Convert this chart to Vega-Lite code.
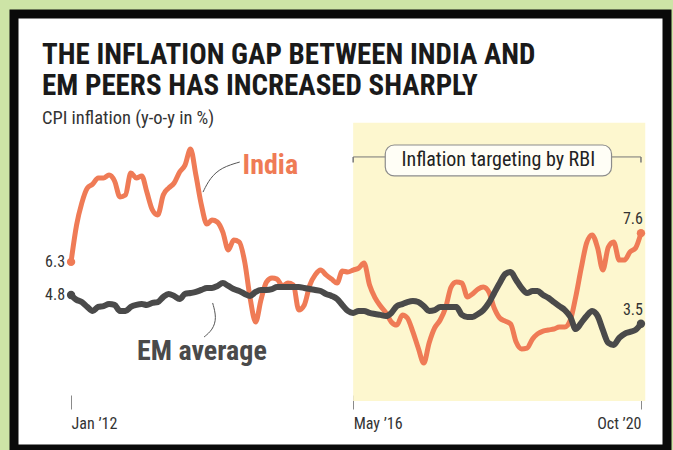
{
  "$schema": "https://vega.github.io/schema/vega-lite/v6.json",
  "width": 653,
  "height": 435,
  "autosize": "none",
  "padding": {"left": 14, "top": 14, "right": 6, "bottom": 1},
  "background": "#cde4a6",
  "config": {
    "font": "Liberation Sans Narrow, Roboto Condensed, Roboto",
    "view": {"fill": "#ffffff", "stroke": "#0a0a0a", "strokeWidth": 9}
  },
  "title": {
    "text": ["THE INFLATION GAP BETWEEN INDIA AND", "EM PEERS HAS INCREASED SHARPLY"],
    "subtitle": "CPI inflation (y-o-y in %)",
    "anchor": "start",
    "frame": "group",
    "orient": "top",
    "offset": -113,
    "dx": 28,
    "font": "Liberation Sans Narrow, Roboto Condensed, Roboto",
    "fontSize": 29,
    "fontWeight": "bold",
    "color": "#1a1a1a",
    "lineHeight": 31,
    "subtitleFont": "Liberation Sans Narrow, Roboto Condensed, Roboto",
    "subtitleFontSize": 18.5,
    "subtitleColor": "#333333",
    "subtitlePadding": 8
  },
  "datasets": {
    "india": [
      {"date":"2012-01-01","v":6.3},{"date":"2012-02-01","v":7.97},{"date":"2012-03-01","v":8.96},{"date":"2012-04-01","v":9.64},{"date":"2012-05-01","v":9.82},{"date":"2012-06-01","v":10.1},{"date":"2012-07-01","v":10.1},{"date":"2012-08-01","v":10.23},{"date":"2012-09-01","v":9.96},{"date":"2012-10-01","v":9.24},{"date":"2012-11-01","v":9.33},{"date":"2012-12-01","v":10.32},
      {"date":"2013-01-01","v":10.1},{"date":"2013-02-01","v":10.19},{"date":"2013-03-01","v":9.46},{"date":"2013-04-01","v":8.65},{"date":"2013-05-01","v":8.42},{"date":"2013-06-01","v":9.33},{"date":"2013-07-01","v":9.64},{"date":"2013-08-01","v":9.87},{"date":"2013-09-01","v":10.37},{"date":"2013-10-01","v":10.68},{"date":"2013-11-01","v":11.41},{"date":"2013-12-01","v":10.23},
      {"date":"2014-01-01","v":8.87},{"date":"2014-02-01","v":8.01},{"date":"2014-03-01","v":8.19},{"date":"2014-04-01","v":8.1},{"date":"2014-05-01","v":7.65},{"date":"2014-06-01","v":6.84},{"date":"2014-07-01","v":7.29},{"date":"2014-08-01","v":7.2},{"date":"2014-09-01","v":6.29},{"date":"2014-10-01","v":4.67},{"date":"2014-11-01","v":3.58},{"date":"2014-12-01","v":4.58},
      {"date":"2015-01-01","v":5.39},{"date":"2015-02-01","v":5.57},{"date":"2015-03-01","v":5.52},{"date":"2015-04-01","v":5.21},{"date":"2015-05-01","v":5.34},{"date":"2015-06-01","v":5.25},{"date":"2015-07-01","v":4.12},{"date":"2015-08-01","v":4.35},{"date":"2015-09-01","v":5.25},{"date":"2015-10-01","v":5.71},{"date":"2015-11-01","v":5.93},{"date":"2015-12-01","v":5.71},
      {"date":"2016-01-01","v":5.52},{"date":"2016-02-01","v":5.34},{"date":"2016-03-01","v":5.89},{"date":"2016-04-01","v":5.84},{"date":"2016-05-01","v":5.93},{"date":"2016-06-01","v":6.02},{"date":"2016-07-01","v":6.25},{"date":"2016-08-01","v":5.25},{"date":"2016-09-01","v":4.67},{"date":"2016-10-01","v":4.3},{"date":"2016-11-01","v":3.99},{"date":"2016-12-01","v":3.58},
      {"date":"2017-01-01","v":3.44},{"date":"2017-02-01","v":3.9},{"date":"2017-03-01","v":3.76},{"date":"2017-04-01","v":3.13},{"date":"2017-05-01","v":2.4},{"date":"2017-06-01","v":1.72},{"date":"2017-07-01","v":2.63},{"date":"2017-08-01","v":3.31},{"date":"2017-09-01","v":3.67},{"date":"2017-10-01","v":4.21},{"date":"2017-11-01","v":5.16},{"date":"2017-12-01","v":5.39},
      {"date":"2018-01-01","v":5.34},{"date":"2018-02-01","v":4.71},{"date":"2018-03-01","v":4.85},{"date":"2018-04-01","v":5.07},{"date":"2018-05-01","v":5.16},{"date":"2018-06-01","v":4.94},{"date":"2018-07-01","v":4.21},{"date":"2018-08-01","v":3.76},{"date":"2018-09-01","v":3.62},{"date":"2018-10-01","v":3.49},{"date":"2018-11-01","v":2.67},{"date":"2018-12-01","v":2.36},
      {"date":"2019-01-01","v":2.4},{"date":"2019-02-01","v":2.81},{"date":"2019-03-01","v":3.04},{"date":"2019-04-01","v":3.17},{"date":"2019-05-01","v":3.22},{"date":"2019-06-01","v":3.26},{"date":"2019-07-01","v":3.35},{"date":"2019-08-01","v":3.35},{"date":"2019-09-01","v":3.67},{"date":"2019-10-01","v":4.71},{"date":"2019-11-01","v":6.02},{"date":"2019-12-01","v":7.15},
      {"date":"2020-01-01","v":7.52},{"date":"2020-02-01","v":6.93},{"date":"2020-03-01","v":5.93},{"date":"2020-04-01","v":6.97},{"date":"2020-05-01","v":7.2},{"date":"2020-06-01","v":6.38},{"date":"2020-07-01","v":6.38},{"date":"2020-08-01","v":6.75},{"date":"2020-09-01","v":6.93},{"date":"2020-10-01","v":7.6}
    ],
    "em": [
      {"date":"2012-01-01","v":4.8},{"date":"2012-02-01","v":4.58},{"date":"2012-03-01","v":4.48},{"date":"2012-04-01","v":4.26},{"date":"2012-05-01","v":4.08},{"date":"2012-06-01","v":4.26},{"date":"2012-07-01","v":4.3},{"date":"2012-08-01","v":4.39},{"date":"2012-09-01","v":4.35},{"date":"2012-10-01","v":4.08},{"date":"2012-11-01","v":4.08},{"date":"2012-12-01","v":4.26},
      {"date":"2013-01-01","v":4.35},{"date":"2013-02-01","v":4.39},{"date":"2013-03-01","v":4.35},{"date":"2013-04-01","v":4.44},{"date":"2013-05-01","v":4.48},{"date":"2013-06-01","v":4.71},{"date":"2013-07-01","v":4.85},{"date":"2013-08-01","v":4.76},{"date":"2013-09-01","v":4.62},{"date":"2013-10-01","v":4.85},{"date":"2013-11-01","v":4.89},{"date":"2013-12-01","v":4.94},
      {"date":"2014-01-01","v":5.03},{"date":"2014-02-01","v":5.12},{"date":"2014-03-01","v":5.12},{"date":"2014-04-01","v":5.21},{"date":"2014-05-01","v":5.34},{"date":"2014-06-01","v":5.21},{"date":"2014-07-01","v":5.07},{"date":"2014-08-01","v":4.98},{"date":"2014-09-01","v":4.85},{"date":"2014-10-01","v":4.76},{"date":"2014-11-01","v":4.94},{"date":"2014-12-01","v":5.03},
      {"date":"2015-01-01","v":5.03},{"date":"2015-02-01","v":5.07},{"date":"2015-03-01","v":5.16},{"date":"2015-04-01","v":5.16},{"date":"2015-05-01","v":5.16},{"date":"2015-06-01","v":5.16},{"date":"2015-07-01","v":5.16},{"date":"2015-08-01","v":5.12},{"date":"2015-09-01","v":5.07},{"date":"2015-10-01","v":5.03},{"date":"2015-11-01","v":4.98},{"date":"2015-12-01","v":4.85},
      {"date":"2016-01-01","v":4.76},{"date":"2016-02-01","v":4.62},{"date":"2016-03-01","v":4.35},{"date":"2016-04-01","v":4.08},{"date":"2016-05-01","v":3.99},{"date":"2016-06-01","v":4.08},{"date":"2016-07-01","v":4.08},{"date":"2016-08-01","v":3.99},{"date":"2016-09-01","v":3.94},{"date":"2016-10-01","v":3.9},{"date":"2016-11-01","v":3.85},{"date":"2016-12-01","v":3.99},
      {"date":"2017-01-01","v":4.3},{"date":"2017-02-01","v":4.39},{"date":"2017-03-01","v":4.48},{"date":"2017-04-01","v":4.53},{"date":"2017-05-01","v":4.48},{"date":"2017-06-01","v":4.3},{"date":"2017-07-01","v":4.08},{"date":"2017-08-01","v":4.12},{"date":"2017-09-01","v":4.26},{"date":"2017-10-01","v":4.26},{"date":"2017-11-01","v":4.26},{"date":"2017-12-01","v":4.26},
      {"date":"2018-01-01","v":3.9},{"date":"2018-02-01","v":3.81},{"date":"2018-03-01","v":3.81},{"date":"2018-04-01","v":3.94},{"date":"2018-05-01","v":4.12},{"date":"2018-06-01","v":4.44},{"date":"2018-07-01","v":4.89},{"date":"2018-08-01","v":5.34},{"date":"2018-09-01","v":5.75},{"date":"2018-10-01","v":5.84},{"date":"2018-11-01","v":5.48},{"date":"2018-12-01","v":5.12},
      {"date":"2019-01-01","v":4.89},{"date":"2019-02-01","v":4.98},{"date":"2019-03-01","v":4.98},{"date":"2019-04-01","v":4.8},{"date":"2019-05-01","v":4.67},{"date":"2019-06-01","v":4.48},{"date":"2019-07-01","v":4.3},{"date":"2019-08-01","v":4.12},{"date":"2019-09-01","v":3.81},{"date":"2019-10-01","v":3.26},{"date":"2019-11-01","v":3.54},{"date":"2019-12-01","v":3.85},
      {"date":"2020-01-01","v":4.08},{"date":"2020-02-01","v":3.85},{"date":"2020-03-01","v":3.22},{"date":"2020-04-01","v":2.63},{"date":"2020-05-01","v":2.54},{"date":"2020-06-01","v":2.86},{"date":"2020-07-01","v":3.04},{"date":"2020-08-01","v":3.13},{"date":"2020-09-01","v":3.22},{"date":"2020-10-01","v":3.5}
    ],
    "shade": [{"date":"2016-05-01","date2":"2020-10-25","v":0,"v2":12.6}],
    "bracket": [{"date":"2016-05-01","date2":"2020-10-01","v":11.05}],
    "hooks": [{"date":"2016-05-01","v":11.05,"v2":10.8},{"date":"2020-10-01","v":11.05,"v2":10.8}],
    "box": [{"date":"2016-10-28","date2":"2020-04-19","v":11.59,"v2":10.19}],
    "boxtext": [{"date":"2018-07-24","v":10.89,"label":"Inflation targeting by RBI"}],
    "leaders": [
      {"g":"India","i":1,"date":"2014-08-04","v":10.82},
      {"g":"India","i":2,"date":"2014-04-25","v":10.58},
      {"g":"India","i":3,"date":"2014-02-18","v":10.1},
      {"g":"India","i":4,"date":"2014-01-10","v":9.46},
      {"g":"EM","i":1,"date":"2014-03-05","v":4.44},
      {"g":"EM","i":2,"date":"2014-03-28","v":3.76},
      {"g":"EM","i":3,"date":"2014-03-05","v":3.22},
      {"g":"EM","i":4,"date":"2014-01-16","v":2.9}
    ],
    "startpts": [
      {"date":"2012-01-01","v":6.3,"series":"India","label":"6.3"},
      {"date":"2012-01-01","v":4.8,"series":"EM","label":"4.8"}
    ],
    "endpts": [
      {"date":"2020-10-01","v":7.6,"series":"India","label":"7.6"},
      {"date":"2020-10-01","v":3.5,"series":"EM","label":"3.5"}
    ],
    "names": [
      {"date":"2014-08-20","v":10.28,"series":"India","label":"India"},
      {"date":"2013-01-05","v":1.86,"series":"EM","label":"EM average"}
    ]
  },
  "encoding": {
    "x": {
      "field": "date",
      "type": "temporal",
      "scale": {
        "type": "utc",
        "domain": [
          {"year": 2011, "month": 2, "date": 15, "utc": true},
          {"year": 2021, "month": 2, "date": 24, "utc": true}
        ]
      },
      "axis": {
        "orient": "bottom",
        "offset": -54,
        "domain": false,
        "grid": false,
        "ticks": true,
        "tickColor": "#8a8a8a",
        "tickSize": 14,
        "tickWidth": 1,
        "labelFont": "Liberation Sans Narrow, Roboto Condensed, Roboto",
        "labelFontSize": 16,
        "labelColor": "#333333",
        "labelPadding": 6,
        "labelAlign": {"condition": {"test": "datum.value > 1577836800000", "value": "right"}, "value": "left"},
        "title": null,
        "values": [
          {"year": 2012, "month": 1, "date": 1, "utc": true},
          {"year": 2016, "month": 5, "date": 1, "utc": true},
          {"year": 2020, "month": 10, "date": 1, "utc": true}
        ],
        "labelExpr": "utcFormat(datum.value, '%b ’%y')"
      }
    },
    "y": {
      "field": "v",
      "type": "quantitative",
      "scale": {"domain": [-2.17, 17.52], "nice": false, "zero": false},
      "axis": null
    }
  },
  "layer": [
    {
      "data": {"name": "shade"},
      "mark": {"type": "rect", "color": "#fdf7cf"},
      "encoding": {"x2": {"field": "date2"}, "y2": {"field": "v2"}}
    },
    {
      "data": {"name": "bracket"},
      "mark": {"type": "rule", "color": "#777777", "strokeWidth": 1},
      "encoding": {"x2": {"field": "date2"}}
    },
    {
      "data": {"name": "hooks"},
      "mark": {"type": "rule", "color": "#777777", "strokeWidth": 1.5},
      "encoding": {"y2": {"field": "v2"}}
    },
    {
      "data": {"name": "box"},
      "mark": {"type": "rect", "fill": "#fffef6", "stroke": "#8c8c8c", "strokeWidth": 1.2, "cornerRadius": 9},
      "encoding": {"x2": {"field": "date2"}, "y2": {"field": "v2"}}
    },
    {
      "data": {"name": "boxtext"},
      "mark": {"type": "text", "fontSize": 20, "color": "#222222", "align": "center", "baseline": "middle", "font": "Liberation Sans Narrow, Roboto Condensed, Roboto"},
      "encoding": {"text": {"field": "label"}}
    },
    {
      "data": {"name": "leaders"},
      "mark": {"type": "line", "color": "#555555", "strokeWidth": 1, "interpolate": "basis"},
      "encoding": {"detail": {"field": "g"}, "order": {"field": "i", "type": "quantitative"}}
    },
    {
      "data": {"name": "india"},
      "mark": {"type": "line", "color": "#ef7b56", "strokeWidth": 5, "interpolate": "monotone", "strokeCap": "round", "strokeJoin": "round"},
      "encoding": {}
    },
    {
      "data": {"name": "em"},
      "mark": {"type": "line", "color": "#4a4a4a", "strokeWidth": 6, "interpolate": "monotone", "strokeCap": "round", "strokeJoin": "round"},
      "encoding": {}
    },
    {
      "data": {"name": "startpts"},
      "mark": {"type": "point", "filled": true, "opacity": 1, "size": 70},
      "encoding": {
        "color": {"field": "series", "type": "nominal", "scale": {"domain": ["India", "EM"], "range": ["#ef7b56", "#4a4a4a"]}, "legend": null}
      }
    },
    {
      "data": {"name": "endpts"},
      "mark": {"type": "point", "filled": true, "opacity": 1, "size": 70},
      "encoding": {
        "color": {"field": "series", "type": "nominal", "scale": {"domain": ["India", "EM"], "range": ["#ef7b56", "#4a4a4a"]}, "legend": null}
      }
    },
    {
      "data": {"name": "startpts"},
      "mark": {"type": "text", "align": "right", "baseline": "middle", "dx": -6, "fontSize": 16, "color": "#333333", "font": "Liberation Sans Narrow, Roboto Condensed, Roboto"},
      "encoding": {"text": {"field": "label"}}
    },
    {
      "data": {"name": "endpts"},
      "mark": {"type": "text", "align": "right", "baseline": "middle", "dx": 2, "dy": -14, "fontSize": 16, "color": "#333333", "font": "Liberation Sans Narrow, Roboto Condensed, Roboto"},
      "encoding": {"text": {"field": "label"}}
    },
    {
      "data": {"name": "names"},
      "mark": {"type": "text", "align": "left", "baseline": "alphabetic", "fontSize": 28, "fontWeight": "bold", "font": "Liberation Sans Narrow, Roboto Condensed, Roboto"},
      "encoding": {
        "text": {"field": "label"},
        "color": {"field": "series", "type": "nominal", "scale": {"domain": ["India", "EM"], "range": ["#ef7b56", "#4a4a4a"]}, "legend": null}
      }
    }
  ]
}
